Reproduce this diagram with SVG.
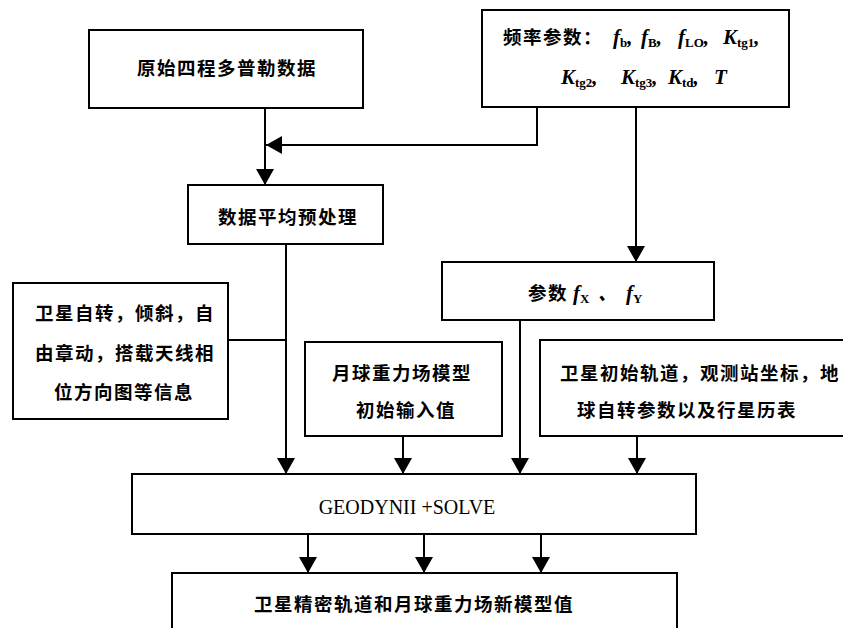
<svg xmlns="http://www.w3.org/2000/svg" width="843" height="628" viewBox="0 0 843 628">
<style>
.box{fill:#fff;stroke:#000;stroke-width:2}
.cjk{font-family:"Noto Sans CJK SC","Noto Sans",sans-serif;font-weight:bold;font-size:18.5px;letter-spacing:1.5px;fill:#000}
.mid{text-anchor:middle}
.math{font-family:"Liberation Serif","DejaVu Serif",serif;font-weight:bold;font-style:italic;font-size:21px;fill:#000}
.sub{font-size:13px;font-style:normal}
.en{font-family:"Liberation Serif","DejaVu Serif",serif;font-size:20px;fill:#000;text-anchor:middle}
.conn{fill:none;stroke:#000;stroke-width:2}
</style>
<defs>
<marker id="arr" viewBox="0 0 16 18" refX="16" refY="9" markerWidth="16" markerHeight="18" markerUnits="userSpaceOnUse" orient="auto">
<path d="M0,0 L16,9 L0,18 Z" fill="#000"/>
</marker>
</defs>
<rect width="843" height="628" fill="#fff"/>
<g id="connectors">
<path class="conn" d="M265,108 V185" marker-end="url(#arr)"/>
<path class="conn" d="M537,107 V145 H266" marker-end="url(#arr)"/>
<path class="conn" d="M636,107 V262" marker-end="url(#arr)"/>
<path class="conn" d="M286,244 V474" marker-end="url(#arr)"/>
<path class="conn" d="M228,340 H286"/>
<path class="conn" d="M403,436 V474" marker-end="url(#arr)"/>
<path class="conn" d="M520,320 V474" marker-end="url(#arr)"/>
<path class="conn" d="M637,436 V474" marker-end="url(#arr)"/>
<path class="conn" d="M308,534 V573" marker-end="url(#arr)"/>
<path class="conn" d="M424,534 V573" marker-end="url(#arr)"/>
<path class="conn" d="M541,534 V573" marker-end="url(#arr)"/>
</g>
<g id="n_raw">
<rect class="box" x="89" y="30" width="274" height="78"/>
<text class="cjk mid" x="227" y="75">原始四程多普勒数据</text>
</g>
<g id="n_freq">
<rect class="box" x="482" y="10" width="307" height="97"/>
<text class="cjk" x="503" y="44">频率参数：</text>
<text class="math" y="44"><tspan x="613">f</tspan><tspan class="sub" dy="3">b</tspan><tspan dy="-3">,</tspan><tspan x="641">f</tspan><tspan class="sub" dy="3">B</tspan><tspan dy="-3">,</tspan><tspan x="678">f</tspan><tspan class="sub" dy="3">LO</tspan><tspan dy="-3">,</tspan><tspan x="723">K</tspan><tspan class="sub" dy="3">tg1</tspan><tspan dy="-3">,</tspan></text>
<text class="math" y="84"><tspan x="561">K</tspan><tspan class="sub" dy="3">tg2</tspan><tspan dy="-3">,</tspan><tspan x="621">K</tspan><tspan class="sub" dy="3">tg3</tspan><tspan dy="-3">,</tspan><tspan x="668">K</tspan><tspan class="sub" dy="3">td</tspan><tspan dy="-3">,</tspan><tspan x="714">T</tspan></text>
</g>
<g id="n_pre">
<rect class="box" x="188" y="185" width="195" height="59"/>
<text class="cjk mid" x="288" y="224">数据平均预处理</text>
</g>
<g id="n_fxfy">
<rect class="box" x="442" y="262" width="272" height="58"/>
<text class="cjk" x="528" y="300">参数</text>
<text class="math" y="300"><tspan x="573">f</tspan><tspan class="sub" dy="3">X</tspan><tspan dy="-3" class="cjk" x="598" letter-spacing="0">、</tspan><tspan x="626">f</tspan><tspan class="sub" dy="3">Y</tspan></text>
</g>
<g id="n_sat">
<rect class="box" x="13" y="283" width="215" height="136"/>
<text class="cjk mid" x="125" y="320">卫星自转，倾斜，自</text>
<text class="cjk mid" x="125" y="360">由章动，搭载天线相</text>
<text class="cjk mid" x="124" y="399">位方向图等信息</text>
</g>
<g id="n_moon">
<rect class="box" x="305" y="342" width="197" height="94"/>
<text class="cjk mid" x="402" y="380">月球重力场模型</text>
<text class="cjk mid" x="406" y="417">初始输入值</text>
</g>
<g id="n_orbit">
<rect class="box" x="540" y="340" width="330" height="96"/>
<text class="cjk" x="560" y="380">卫星初始轨道，观测站坐标，地</text>
<text class="cjk" x="577" y="417">球自转参数以及行星历表</text>
</g>
<g id="n_geodyn">
<rect class="box" x="132" y="474" width="564" height="60"/>
<text class="en" x="407" y="514">GEODYNII +SOLVE</text>
</g>
<g id="n_result">
<rect class="box" x="172" y="573" width="505" height="70"/>
<text class="cjk mid" x="414" y="611">卫星精密轨道和月球重力场新模型值</text>
</g>
</svg>
